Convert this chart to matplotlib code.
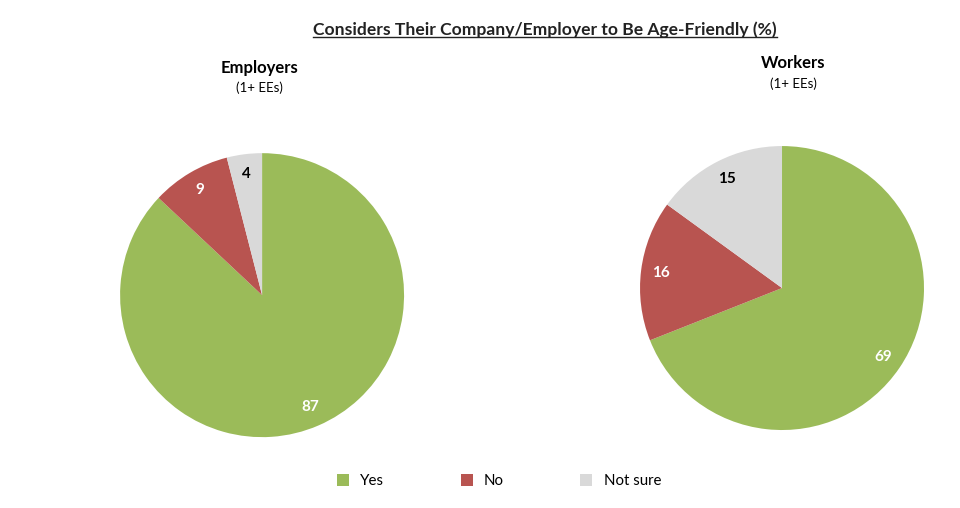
import matplotlib.pyplot as plt
from matplotlib.patches import Patch
from matplotlib.lines import Line2D

plt.rcParams['font.family'] = ['Lato', 'DejaVu Sans']

categories = ['Yes', 'No', 'Not sure']
employers = [87, 9, 4]
workers = [69, 16, 15]
colors = ['#9BBB59', '#B85450', '#D9D9D9']
label_colors = ['white', 'white', 'black']

fig = plt.figure(figsize=(9.6, 5.08), dpi=100)


def draw_pie(rect, vals):
    ax = fig.add_axes(rect)
    wedges, texts = ax.pie(vals, colors=colors, startangle=90, counterclock=False,
                           labels=[str(v) for v in vals], labeldistance=0.86,
                           wedgeprops=dict(linewidth=0))
    for t, c in zip(texts, label_colors):
        t.set_color(c)
        t.set_fontweight('bold')
        t.set_fontsize(11)
        t.set_ha('center')
        t.set_va('center')
    ax.set_xlim(-1, 1)
    ax.set_ylim(-1, 1)
    ax.set_aspect('equal')
    return ax


draw_pie([0.273 - 0.148, 0.419 - 0.2795, 0.296, 0.559], employers)
draw_pie([0.8146 - 0.148, 0.433 - 0.2795, 0.296, 0.559], workers)

# titles
title = fig.text(545 / 960, 1 - 30 / 508, 'Considers Their Company/Employer to Be Age-Friendly (%)',
                 ha='center', va='center', fontsize=12.6, fontweight='bold', color='#222222')
fig.text(259 / 960, 1 - 68 / 508, 'Employers', ha='center', va='center', fontsize=12, fontweight='bold')
fig.text(259 / 960, 1 - 88 / 508, '(1+ EEs)', ha='center', va='center', fontsize=9.5)
fig.text(793 / 960, 1 - 63 / 508, 'Workers', ha='center', va='center', fontsize=12, fontweight='bold')
fig.text(793 / 960, 1 - 84 / 508, '(1+ EEs)', ha='center', va='center', fontsize=9.5)

# underline the title
fig.canvas.draw()
bb = title.get_window_extent().transformed(fig.transFigure.inverted())
fig.add_artist(Line2D([bb.x0, bb.x1], [bb.y0 + 0.002, bb.y0 + 0.002], transform=fig.transFigure,
                      color='#222222', linewidth=1))

handles = [Patch(facecolor=c, edgecolor='none') for c in colors]
fig.legend(handles, categories, loc='center', bbox_to_anchor=(499 / 960, 1 - 481 / 508), ncol=3,
           frameon=False, fontsize=10.8, handlelength=0.8, handleheight=0.8,
           columnspacing=5.1, handletextpad=0.75)

fig.savefig('out.png', dpi=100, facecolor='white')
